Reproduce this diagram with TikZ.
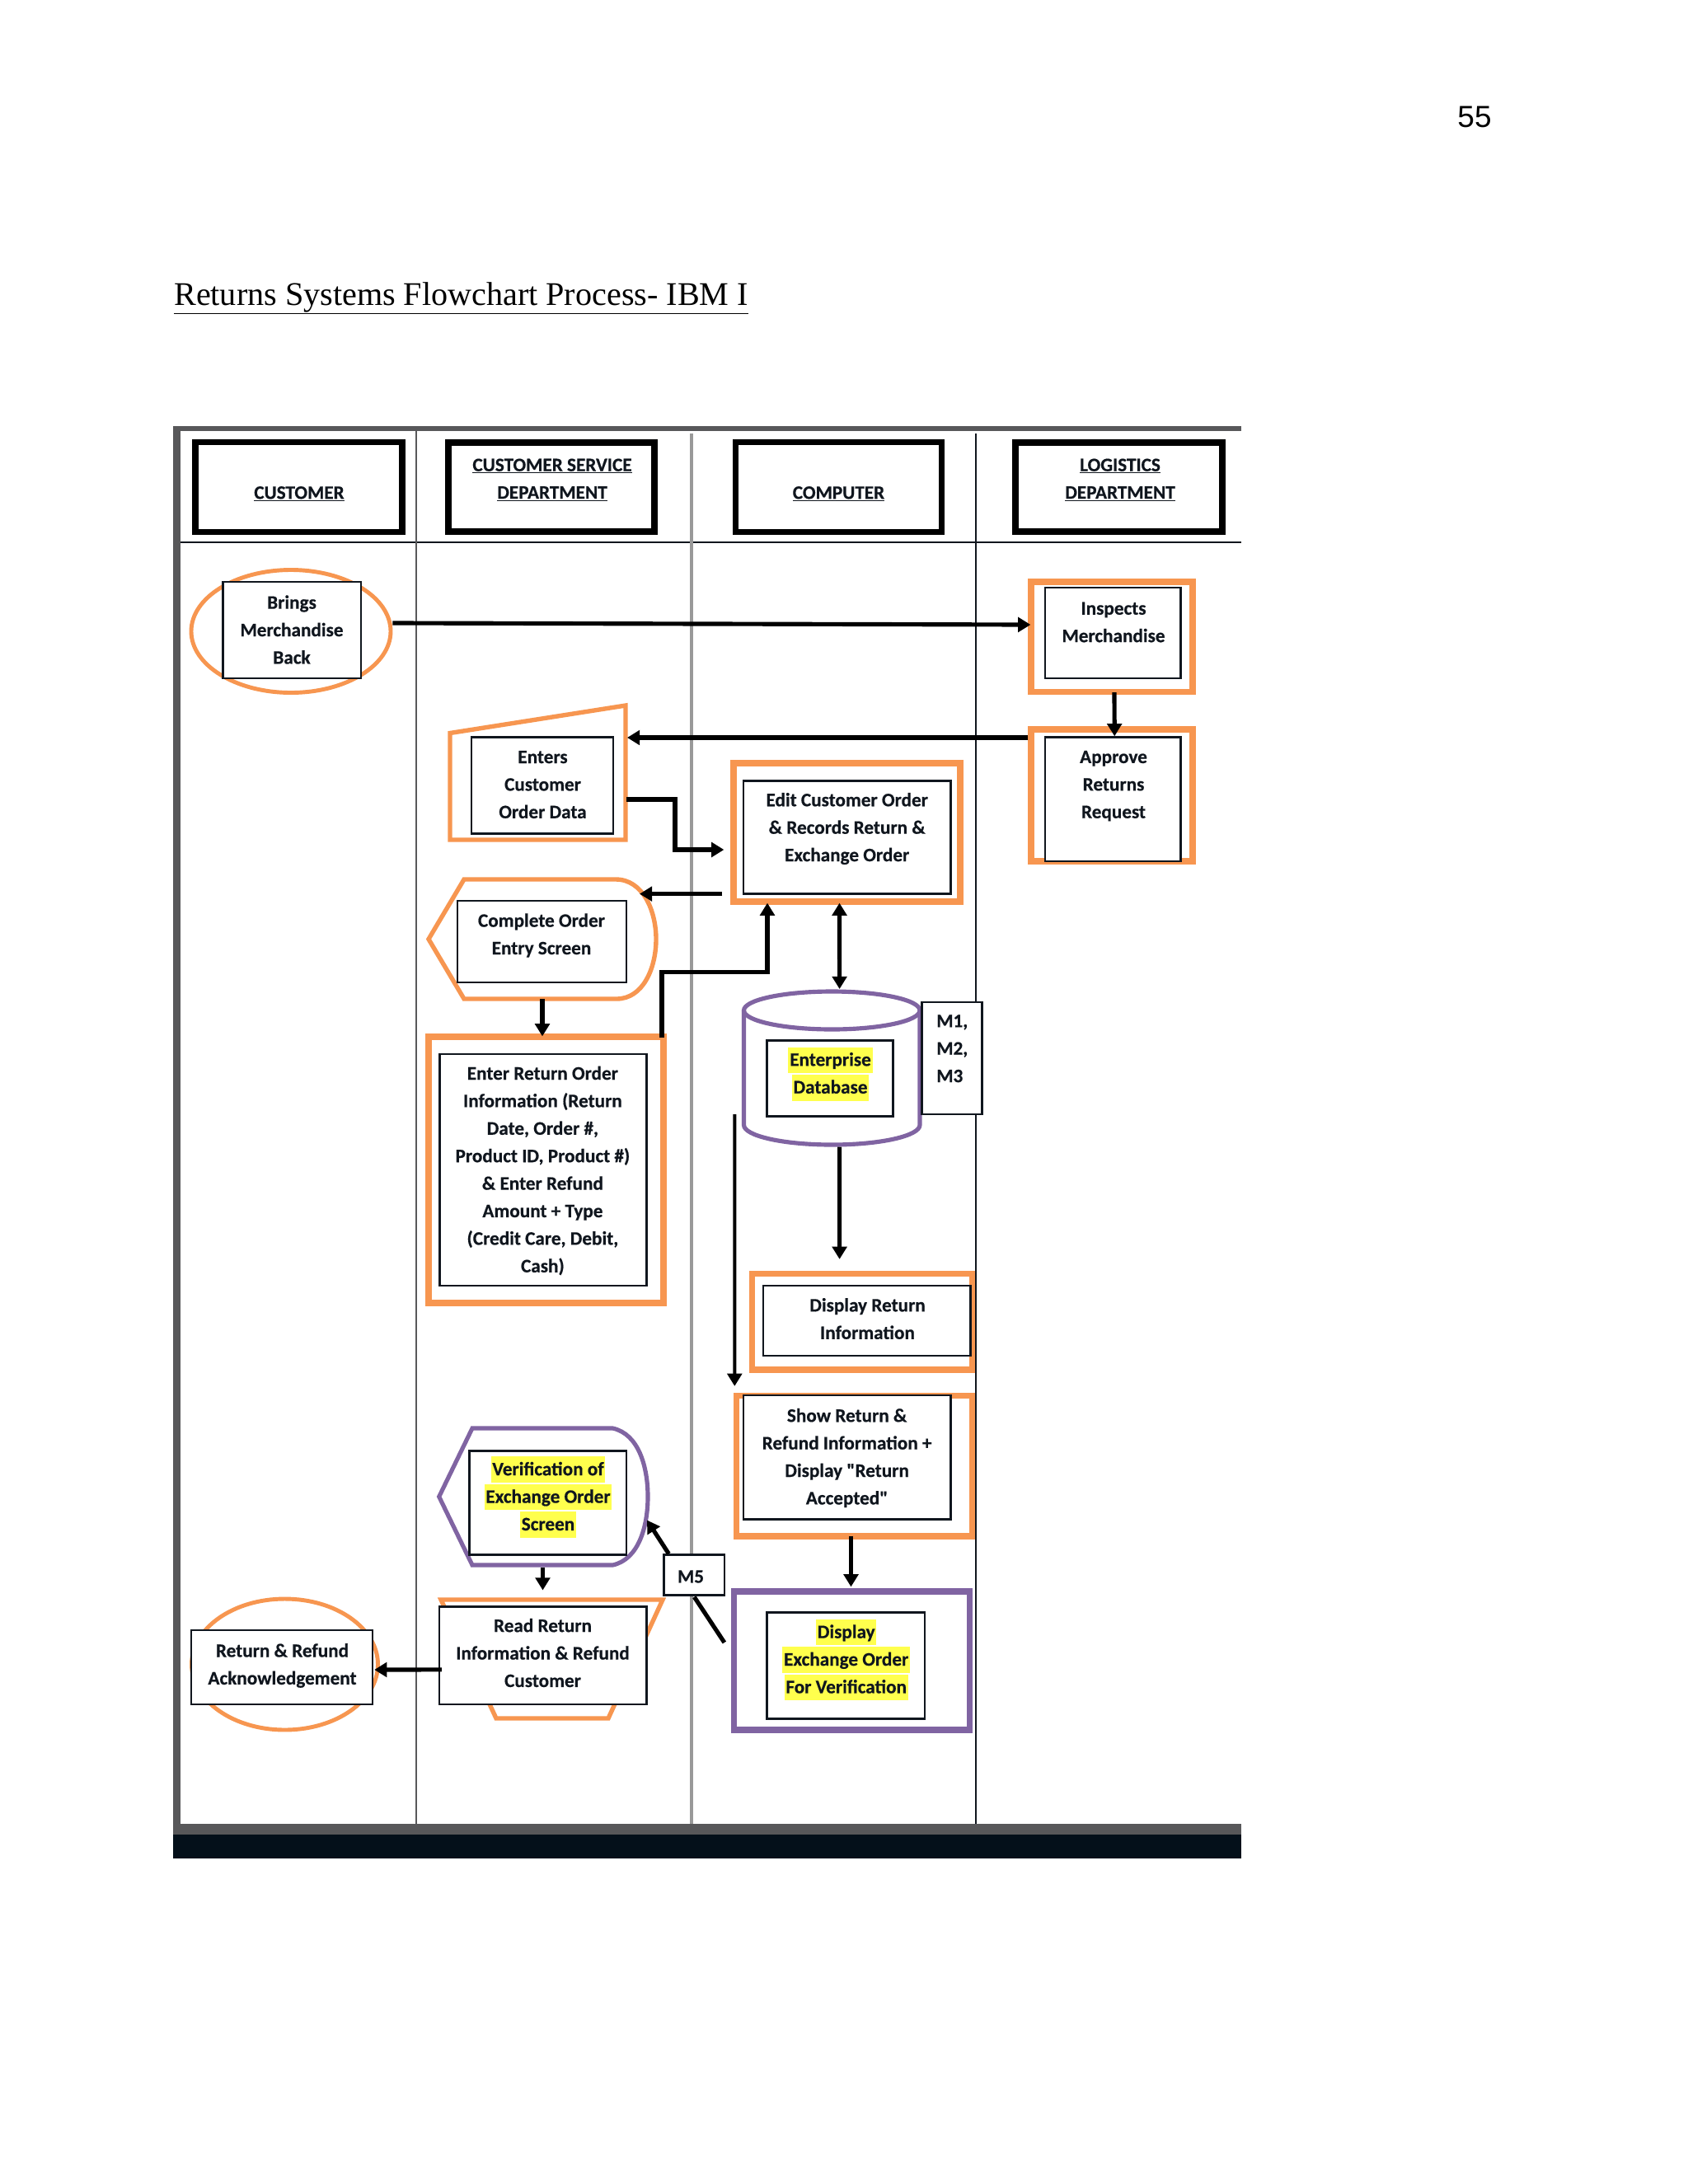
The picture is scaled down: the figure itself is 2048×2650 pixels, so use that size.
\documentclass[tikz,border=0pt]{standalone}
\usepackage{fontspec}
\usetikzlibrary{arrows.meta,shapes.geometric}
\newfontfamily\carl[BoldFeatures={FakeBold=0.5}]{Carlito}
\newfontfamily\libserif{Liberation Serif}
\newfontfamily\libsans{Liberation Sans}
\definecolor{oran}{HTML}{F79650}
\definecolor{purp}{HTML}{8064A2}
\definecolor{yel}{HTML}{FFFF4D}
\definecolor{ink}{HTML}{10161E}
\definecolor{framegray}{HTML}{58585A}
\definecolor{strip}{HTML}{04101A}
\newcommand{\rectnode}[6]{\node[#1,minimum width={(#5-#3)*0.03cm},minimum height={(#6-#4)*0.03cm},inner sep=0pt] (#2) at ({(#3+#5)/2},{(#4+#6)/2}) {};}
\newcommand{\hlt}[1]{{\setlength\fboxsep{1.5pt}\colorbox{yel}{\rule[-6pt]{0pt}{24pt}#1}}}
\tikzset{x=0.03cm,y=-0.03cm,
 hdrbox/.style={draw=black,line width=6.4pt,fill=white},
 orect/.style={draw=oran,line width=6.2pt},
 prect/.style={draw=purp,line width=6.2pt},
 oval/.style={ellipse,draw=oran,line width=4.2pt},
 oshape/.style={draw=oran,line width=4.6pt,line join=miter},
 pshape/.style={draw=purp,line width=4.4pt},
 tbox/.style={draw=ink,line width=2.1pt,fill=white},
 lbl/.style={font=\carl\bfseries\fontsize{19.8}{28.5}\selectfont,align=center,text=ink,inner sep=0pt},
 conn/.style={draw=black,line width=4.4pt,-{Triangle[length=13pt,width=15pt]}},
 plain/.style={draw=black,line width=4.4pt},
}
\begin{document}
\begin{tikzpicture}
\useasboundingbox (0,0) rectangle (2048,2650);
\fill[white] (0,0) rectangle (2048,2650);
% page text
\node[font=\libsans\fontsize{31.5}{40}\selectfont,text=black,inner sep=0pt] (pagenum) at (1789,142) {55};
\node[font=\libserif\fontsize{34.25}{40}\selectfont,text=black,inner sep=0pt,anchor=base west] (title) at (211,370) {\underline{Returns Systems Flowchart Process- IBM I}};
% frame
\fill[framegray] (210,517) rectangle (1506,523);
\fill[framegray] (210,517) rectangle (219,2226);
\fill[framegray] (210,2213) rectangle (1506,2226);
\fill[strip] (210,2226) rectangle (1506,2255);
\draw[draw=ink,line width=2pt] (219,658) -- (1506,658);
\draw[draw=framegray,line width=2.4pt] (505,523) -- (505,2213);
\draw[draw=black!40,line width=3.4pt] (838.5,526) -- (838.5,2213);
\draw[draw=ink,line width=2pt] (1184,526) -- (1184,2213);
% headers
\rectnode{hdrbox}{hA}{237}{536.5}{488}{645.5}
\rectnode{hdrbox}{hB}{544}{537}{794}{645}
\rectnode{hdrbox}{hC}{892.5}{536.5}{1142.5}{645.5}
\rectnode{hdrbox}{hD}{1232}{537}{1483}{645}
\node[lbl] (hAt) at (363,599) {\underline{CUSTOMER}};
\node[lbl] (hBt) at (670,582) {\underline{CUSTOMER SERVICE}\\\underline{DEPARTMENT}};
\node[lbl] (hCt) at (1017.5,599) {\underline{COMPUTER}};
\node[lbl] (hDt) at (1359,582) {\underline{LOGISTICS}\\\underline{DEPARTMENT}};
% Brings
\rectnode{oval}{bringsO}{232}{691.5}{474}{840.5}
\rectnode{tbox}{bringsB}{270.6}{706}{438}{823}
\node[lbl] (bringsT) at (354,764) {Brings\\Merchandise\\Back};
% Inspects
\rectnode{orect}{inspectO}{1251}{706}{1447}{839.5}
\rectnode{tbox}{inspectB}{1268}{713}{1432.5}{823}
\node[lbl] (inspectT) at (1351,755) {Inspects\\Merchandise};
% Approve
\rectnode{orect}{approveO}{1251}{885}{1447}{1045}
\rectnode{tbox}{approveB}{1268}{894.5}{1432.5}{1045}
\node[lbl] (approveT) at (1351,953.6) {Approve\\Returns\\Request};
% Enters
\draw[oshape] (546,889.5) -- (759,856) -- (759,1019) -- (546,1019) -- cycle;
\coordinate (enterIn) at (761,895);
\coordinate (enterOut) at (760,970);
\rectnode{tbox}{entersB}{572}{894.5}{744}{1011.4}
\node[lbl] (entersT) at (658.5,952) {Enters\\Customer\\Order Data};
% Edit
\rectnode{orect}{editO}{890}{926}{1165}{1094}
\rectnode{tbox}{editB}{902}{947.5}{1153.5}{1084.6}
\node[lbl] (editT) at (1027.7,1005.5) {Edit Customer Order\\\& Records Return \&\\Exchange Order};
% Complete
\draw[oshape] (520,1139.5) -- (563,1067) -- (747,1067) .. controls (780,1067) and (796,1105) .. (796,1139.5) .. controls (796,1175) and (780,1212) .. (748,1212) -- (563,1212) -- cycle;
\coordinate (completeIn) at (776,1084.6);
\coordinate (completeS) at (658,1212);
\rectnode{tbox}{completeB}{555}{1093}{760}{1192}
\node[lbl] (completeT) at (657,1135) {Complete Order\\Entry Screen};
% Enter return
\rectnode{orect}{enterO}{520}{1258}{805}{1581}
\rectnode{tbox}{enterB}{533.6}{1279}{784.7}{1560}
\node[lbl] (enterT) at (658.4,1420.5) {Enter Return Order\\Information (Return\\Date, Order \#,\\Product ID, Product \#)\\\& Enter Refund\\Amount + Type\\(Credit Care, Debit,\\Cash)};
% Database
\draw[pshape] (902.5,1226) -- (902.5,1365) arc[start angle=180,end angle=0,x radius=106.75,y radius=24] -- (1116,1226);
\draw[pshape] (1009.25,1226) ellipse[x radius=106.75,y radius=23];
\coordinate (dbTop) at (1018.6,1200);
\coordinate (dbBot) at (1018.6,1391.5);
\rectnode{tbox}{dbB}{930.5}{1262.4}{1083.6}{1354.7}
\node[lbl] (dbT) at (1007.5,1303) {\hlt{Enterprise}\\\hlt{Database}};
\rectnode{tbox}{mB}{1118.5}{1216}{1191.7}{1352}
\node[lbl,align=left,anchor=north west] (mT) at (1136,1231) {M1,\\M2,\\M3};
% Display return
\rectnode{orect}{displayO}{912.5}{1545.5}{1179.5}{1662}
\rectnode{tbox}{displayB}{925.8}{1560}{1177.4}{1645}
\node[lbl] (displayT) at (1052.5,1600) {Display Return\\Information};
% Show
\rectnode{orect}{showO}{893.5}{1693.5}{1179.5}{1864}
\rectnode{tbox}{showB}{902}{1693}{1153.5}{1843.5}
\node[lbl] (showT) at (1027.6,1769) {Show Return \&\\Refund Information +\\Display "Return\\Accepted"};
\coordinate (longStart) at (891.3,1352);
% Exchange display
\rectnode{prect}{exchO}{890.5}{1931}{1176.5}{2099}
\rectnode{tbox}{exchB}{930.7}{1956.4}{1122}{2085.7}
\node[lbl] (exchT) at (1026.7,2014) {\hlt{Display}\\\hlt{Exchange Order}\\\hlt{For Verification}};
% Verification
\draw[pshape] (532.7,1816) -- (573,1733) -- (743.4,1733) .. controls (775,1740) and (786,1780) .. (786,1816) .. controls (786,1852) and (775,1892) .. (743.4,1899) -- (573,1899) -- cycle;
\coordinate (verifyIn) at (785,1844.5);
\coordinate (verifyS) at (658.5,1902);
\rectnode{tbox}{verifyB}{569.7}{1760.7}{760}{1886.5}
\node[lbl] (verifyT) at (665,1816.5) {\hlt{Verification of}\\\hlt{Exchange Order}\\\hlt{Screen}};
% Read
\draw[oshape] (535,1941) -- (804,1941) -- (738,2085) -- (602,2085) -- cycle;
\coordinate (readN) at (658.5,1929.5);
\rectnode{tbox}{readB}{533}{1949.7}{784.4}{2068}
\node[lbl] (readT) at (658.5,2005.5) {Read Return\\Information \& Refund\\Customer};
% Return ack
\rectnode{oval}{returnO}{232.5}{1940}{458.5}{2099}
\rectnode{tbox}{returnB}{232}{1978}{452}{2068}
\node[lbl] (returnT) at (342.5,2021) {Return \& Refund\\Acknowledgement};
% M5
\rectnode{tbox}{m5B}{805.7}{1886.5}{879}{1935.5}
\node[lbl] (m5T) at (838,1913) {M5};
% connectors
\draw[conn] ([shift={(0,-10)}]bringsO.east) -- ([shift={(3,-14.75)}]inspectO.west);
\draw[conn] ([shift={(3,-3)}]inspectO.south) -- ([shift={(2,0)}]approveB.north);
\draw[conn] ([shift={(0,-70)}]approveO.west) -- (enterIn);
\draw[conn] (enterOut) -- ++(59,0) |- ([shift={(-8,21)}]editO.west);
\draw[conn] ([shift={(-10,74.6)}]editO.west) -- (completeIn);
\draw[conn] (completeS) -- ([shift={(-4.5,3)}]enterO.north);
\draw[conn] ([shift={(140.5,5)}]enterO.north) -- ++(0,-80) -| ([shift={(-96.5,-2)}]editO.south);
\draw[conn,{Triangle[length=13pt,width=15pt]}-{Triangle[length=13pt,width=15pt]}] ([shift={(-9,-2)}]editO.south) -- (dbTop);
\draw[conn] (dbBot) -- ([shift={(-27.4,-14)}]displayO.north);
\draw[conn,line width=3.4pt] (longStart) -- ([shift={(-145.2,-8)}]showO.north);
\draw[conn] ([shift={(-4,-4)}]showO.south) -- ([shift={(-1,-2)}]exchO.north);
\draw[plain] ([shift={(-8,-22)}]exchO.west) -- ([shift={(0,1)}]m5B.south);
\draw[conn] ([shift={(-31,0)}]m5B.north) -- (verifyIn);
\draw[conn] (verifyS) -- (readN);
\draw[conn] ([shift={(4,17)}]readB.west) -- ([shift={(1,3)}]returnB.east);
\end{tikzpicture}
\end{document}
